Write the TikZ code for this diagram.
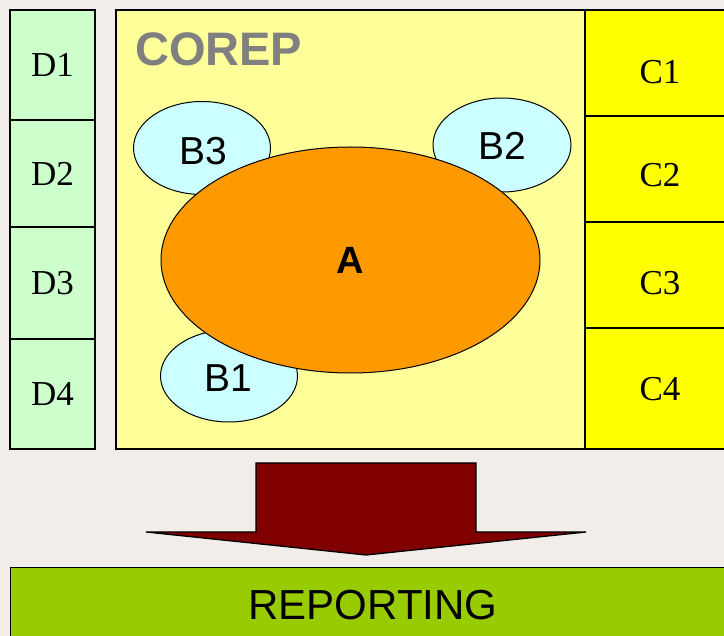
\documentclass[tikz,border=0pt]{standalone}
\usepackage{fontspec}
\setmainfont{Liberation Serif}
\setsansfont{Liberation Sans}
\usetikzlibrary{shapes.geometric}
\definecolor{bgc}{HTML}{F3EDEA}
\definecolor{dfill}{HTML}{CCFFCC}
\definecolor{corepfill}{HTML}{FFFF99}
\definecolor{cfill}{HTML}{FFFF00}
\definecolor{bfill}{HTML}{CCFFFF}
\definecolor{afill}{HTML}{FF9900}
\definecolor{repfill}{HTML}{99CC00}
\definecolor{arrowfill}{HTML}{800000}
\definecolor{coreptext}{HTML}{808080}
\tikzset{
  dbox/.style={draw=black, line width=1.3pt, fill=dfill, minimum width=85pt, inner sep=0pt, font=\fontsize{35}{35}\selectfont},
  cbox/.style={draw=black, line width=1.3pt, fill=cfill, minimum width=150pt, inner sep=0pt},
  clabel/.style={font=\fontsize{35}{35}\selectfont},
  bell/.style={ellipse, draw=black, line width=1pt, fill=bfill, minimum width=137pt, minimum height=93pt, inner sep=0pt},
  blabel/.style={font=\sffamily\fontsize{39}{39}\selectfont},
}
\begin{document}
\begin{tikzpicture}[x=1pt,y=-1pt]
\useasboundingbox (0,0) rectangle (724,636);
\fill[bgc] (0,0) rectangle (724,636);
% D column
\node[dbox, minimum height=110pt] (d1) at (52.5,65) {D1};
\node[dbox, minimum height=107pt] (d2) at (52.5,173.5) {D2};
\node[dbox, minimum height=112pt] (d3) at (52.5,283) {D3};
\node[dbox, minimum height=110pt] (d4) at (52.5,394) {D4};
% COREP box
\node[draw=black, line width=1.3pt, fill=corepfill, minimum width=469pt, minimum height=439pt, inner sep=0pt] (corep) at (350.5,229.5) {};
\node[anchor=west, text=coreptext, font=\sffamily\bfseries\fontsize{47}{47}\selectfont, inner sep=0pt] (coreplabel) at (135,49) {COREP};
% C column
\node[cbox, minimum height=106pt] (c1) at (660,63) {};
\node[cbox, minimum height=106pt] (c2) at (660,169) {};
\node[cbox, minimum height=106pt] (c3) at (660,275) {};
\node[cbox, minimum height=121pt] (c4) at (660,388.5) {};
\node[clabel] (c1t) at (660,72) {C1};
\node[clabel] (c2t) at (660,175) {C2};
\node[clabel] (c3t) at (660,283) {C3};
\node[clabel] (c4t) at (660,389) {C4};
% B ellipses
\node[bell] (b3) at (202,148) {};
\node[bell, minimum width=138pt, minimum height=94pt] (b2) at (502,145) {};
\node[bell, minimum width=137pt, minimum height=92pt] (b1) at (229,376) {};
\node[blabel] (b3t) at (203,151) {B3};
\node[blabel] (b2t) at (502,146) {B2};
\node[blabel] (b1t) at (228,378) {B1};
% A ellipse
\node[ellipse, draw=black, line width=1pt, fill=afill, minimum width=379pt, minimum height=226pt, inner sep=0pt, font=\sffamily\bfseries\fontsize{38}{38}\selectfont] (a) at (350.5,260) {A};
% arrow
\coordinate (tip) at (366,555);
\draw[line width=1.3pt, fill=arrowfill, line join=miter]
  (256,463) -- (476,463) -- (476,532) -- (586,532) -- (tip) -- (146,532) -- (256,532) -- cycle;
% reporting bar
\node[draw=black, line width=1.3pt, fill=repfill, minimum width=730pt, minimum height=72pt, inner sep=0pt, anchor=north west] (rep) at (10,567) {};
\node[font=\sffamily\fontsize{42}{42}\selectfont] (reptext) at (373,605) {REPORTING};
\end{tikzpicture}
\end{document}
